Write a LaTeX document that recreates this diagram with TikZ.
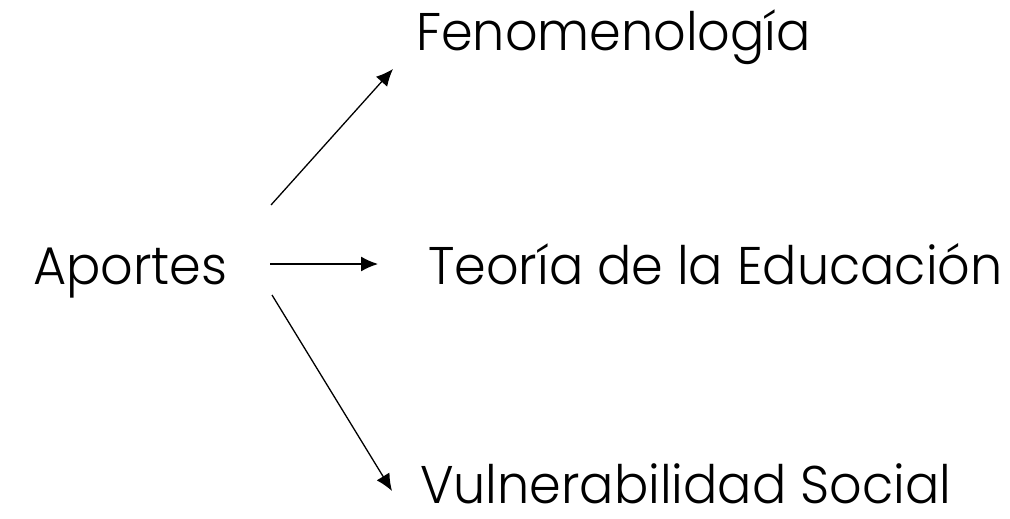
\documentclass[tikz,border=0pt]{standalone}
\usepackage{fontspec}
\setmainfont{Poppins}[UprightFont=* Light, FakeStretch=0.96]
\usetikzlibrary{arrows.meta,positioning}
\tikzstyle{textonly} = [draw=none, fill=none, inner sep=0pt, text depth=0pt, anchor=base west, font=\fontsize{53}{60}\selectfont]
\tikzstyle{tedge}  = [draw, line width=1.3pt, -{Latex[length=17pt,width=15pt]}]
\begin{document}
\begin{tikzpicture}[x=1pt,y=-1pt]
\useasboundingbox (0,0) rectangle (1010,519);

% words ==================================
\node[textonly] (aportes) at (33,284) {Aportes};
\node[textonly] (feno) at (416,51) {Fenomenología};
\node[textonly] (teoria) at (428,284) {Teoría de la Educación};
\node[textonly] (vulne) at (420,503) {Vulnerabilidad Social};

% arrow ends
\coordinate (s1) at (271,205);
\coordinate (e1) at (393,69);
\coordinate (s2) at (270,264);
\coordinate (e2) at (378,264);
\coordinate (s3) at (272,295);
\coordinate (e3) at (392,491);

% edges ==================================
\path[tedge] (s1) -- (e1);
\path[tedge] (s2) -- (e2);
\path[tedge] (s3) -- (e3);

\end{tikzpicture}
\end{document}
